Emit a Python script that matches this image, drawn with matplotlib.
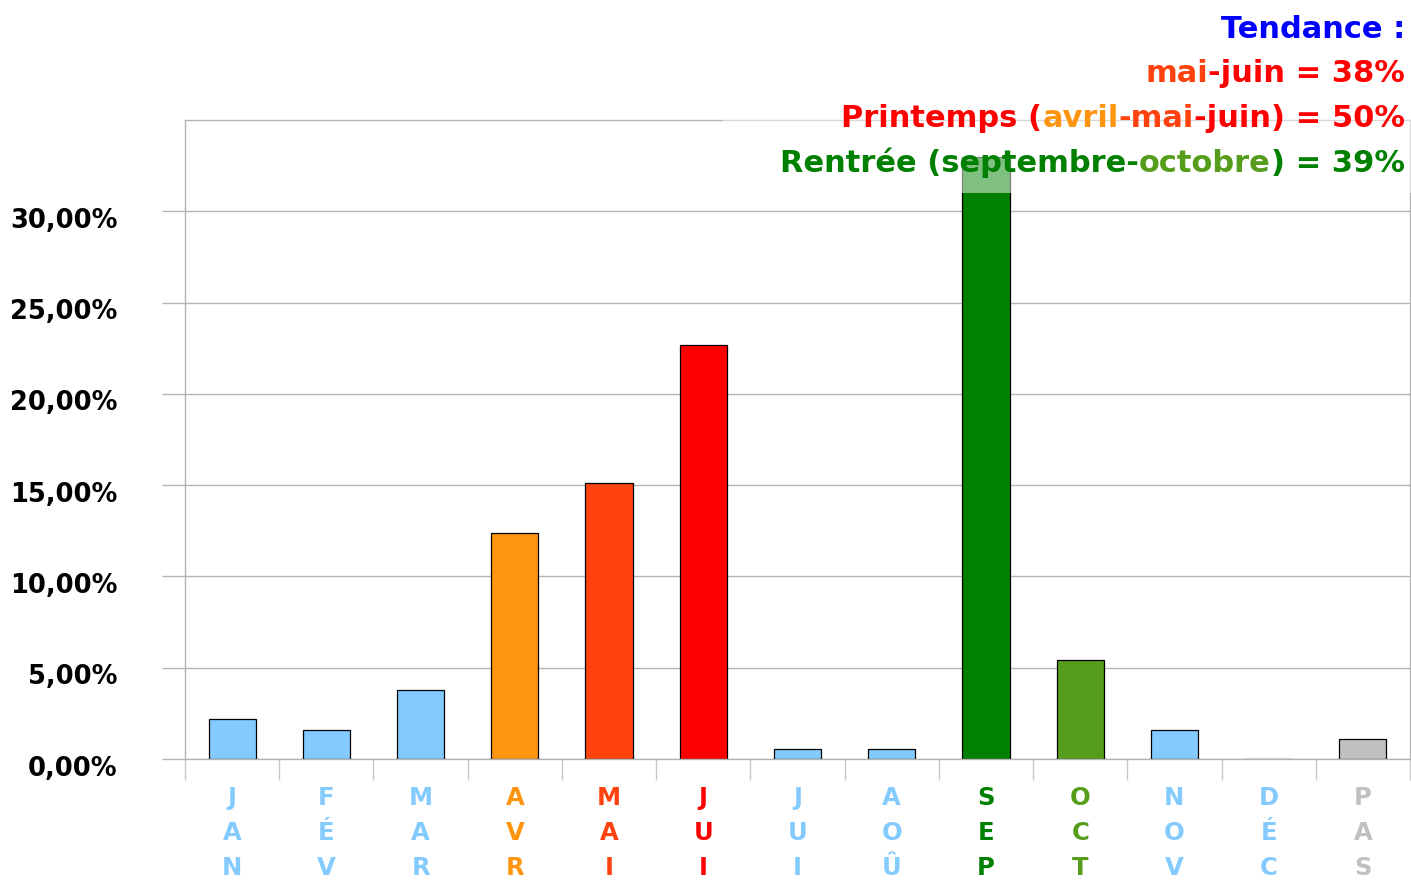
import matplotlib
matplotlib.use("Agg")
import numpy as np
import matplotlib.pyplot as plt
from matplotlib.patches import Rectangle
from matplotlib.transforms import ScaledTranslation

plt.rcParams["font.family"] = ["DejaVu Sans"]
plt.rcParams["font.weight"] = "bold"

# values (percent of total)
months = ["JAN", "FÉV", "MAR", "AVR", "MAI", "JUI", "JUI", "AOÛ", "SEP", "OCT", "NOV", "DÉC", "PAS"]
shares = [2.2, 1.6, 3.8, 12.4, 15.1, 22.7, 0.55, 0.55, 33.0, 5.4, 1.6, 0.0, 1.1]
month_colors = ["#83caff", "#83caff", "#83caff", "#ff950e", "#ff420e", "#ff0000",
                "#83caff", "#83caff", "#008000", "#579d1c", "#83caff", "#83caff", "#c0c0c0"]
yticks = [0, 5, 10, 15, 20, 25, 30]
ytick_labels = ["0,00%", "5,00%", "10,00%", "15,00%", "20,00%", "25,00%", "30,00%"]

trend_lines = [
    [("Tendance :", "#0000ff")],
    [("mai", "#ff420e"), ("-juin = 38%", "#ff0000")],
    [("Printemps (", "#ff0000"), ("avril", "#ff950e"), ("-mai", "#ff420e"), ("-juin) = 50%", "#ff0000")],
    [("Rentrée (septembre-", "#008000"), ("octobre", "#579d1c"), (") = 39%", "#008000")],
]

W, H = 1411, 883
fig = plt.figure(figsize=(W / 100, H / 100), dpi=100)
ax = fig.add_axes([185 / W, 124 / H, 1225 / W, 639 / H])

ax.bar(range(len(months)), shares, width=0.5, color=month_colors,
       edgecolor="black", linewidth=0.9, zorder=2)
ax.set_xlim(-0.5, len(months) - 0.5)
ax.set_ylim(0, 35)

grey = "#b3b3b3"
ax.set_yticks(yticks)
ax.set_yticklabels(ytick_labels, fontsize=18.5, fontweight="bold", va="baseline")
ax.tick_params(axis="y", length=16.5, width=1, color=grey, pad=32)
ax.grid(axis="y", color=grey, linewidth=1)
ax.set_axisbelow(True)
shift = ScaledTranslation(0, -0.165, fig.dpi_scale_trans)
for lab in ax.get_yticklabels():
    lab.set_transform(lab.get_transform() + shift)

ax.set_xticks([])
ax.set_xticks(np.arange(-0.5, len(months), 1), minor=True)
ax.tick_params(axis="x", which="minor", length=15, width=1, color="#c8c8c8")
for s in ax.spines.values():
    s.set_color(grey)
    s.set_linewidth(1)

# month names written vertically, one letter per row
for i, (m, c) in enumerate(zip(months, month_colors)):
    for k, ch in enumerate(m):
        ax.annotate(ch, xy=(i, 0), xycoords=("data", "axes fraction"),
                    xytext=(0, -46 - 35 * k), textcoords="offset pixels",
                    ha="center", va="baseline", color=c, fontsize=17.5,
                    fontweight="bold", annotation_clip=False)

# washed-out panel behind the trend text
fig.add_artist(Rectangle((723 / W, 1 - 193 / H), 1 - 723 / W, 193 / H,
                         transform=fig.transFigure, facecolor="white",
                         edgecolor="none", alpha=0.5, zorder=3))

renderer = fig.canvas.get_renderer()
for row, segs in enumerate(trend_lines):
    x = 1405
    y = H - (38 + 44.5 * row)
    for txt, col in reversed(segs):
        t = fig.text(x / W, y / H, txt, ha="right", va="baseline", color=col,
                     fontsize=22, fontweight="bold", zorder=5)
        x = t.get_window_extent(renderer).x0

fig.savefig("out.png", dpi=100)
